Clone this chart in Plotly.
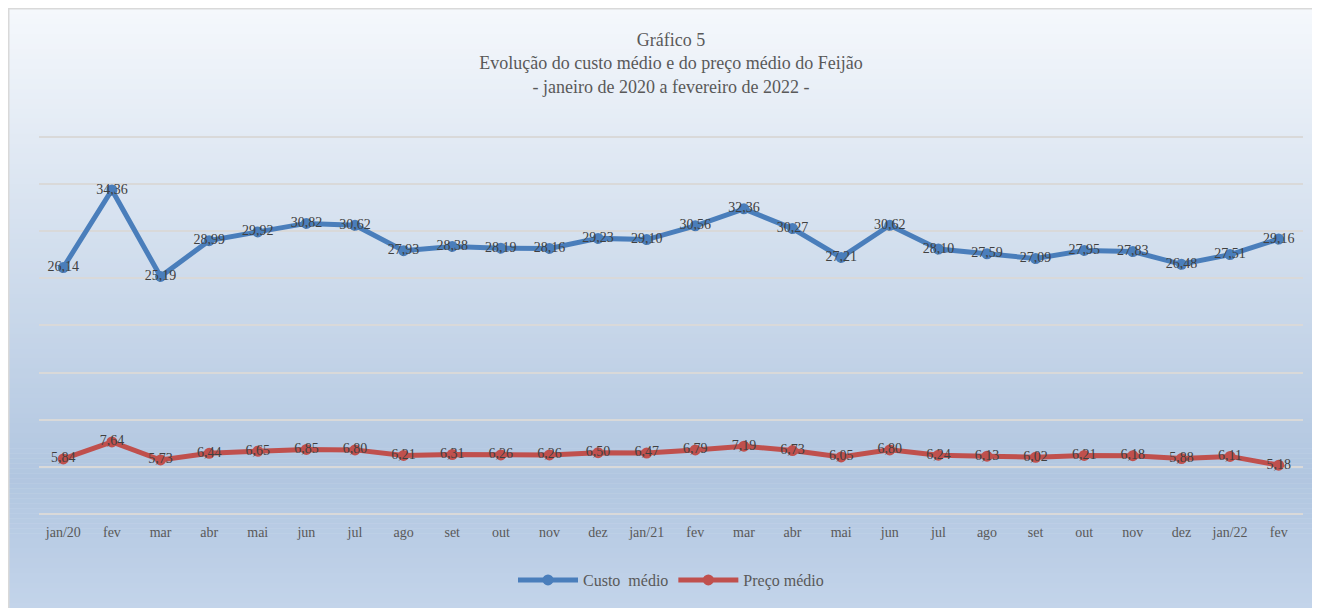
"""Gráfico 5 - custo médio e preço médio do Feijão."""

import plotly.graph_objects as go

# Data
months = [
    "jan/20", "fev", "mar", "abr", "mai", "jun", "jul", "ago", "set", "out",
    "nov", "dez", "jan/21", "fev", "mar", "abr", "mai", "jun", "jul", "ago",
    "set", "out", "nov", "dez", "jan/22", "fev",
]
custo_medio = [
    26.14, 34.36, 25.19, 28.99, 29.92, 30.82, 30.62, 27.93, 28.38, 28.19,
    28.16, 29.23, 29.10, 30.56, 32.36, 30.27, 27.21, 30.62, 28.10, 27.59,
    27.09, 27.95, 27.83, 26.48, 27.51, 29.16,
]
preco_medio = [
    5.84, 7.64, 5.73, 6.44, 6.65, 6.85, 6.80, 6.21, 6.31, 6.26,
    6.26, 6.50, 6.47, 6.79, 7.19, 6.73, 6.05, 6.80, 6.24, 6.13,
    6.02, 6.21, 6.18, 5.88, 6.11, 5.18,
]
x_pos = list(range(len(months)))

FONT = "Liberation Serif"
BLUE = "#4a7ebb"
RED = "#c0504d"

# figure geometry in pixels (the page adds an 8px body margin)
W, H = 1320, 608
M_L, M_R, M_T, M_B = 31, 25, 126, 102
PW, PH = W - M_L - M_R, H - M_T - M_B


def fx(px):
    """figure pixel x -> paper x"""
    return (px - M_L) / PW


def fy(py):
    """figure pixel y -> paper y"""
    return 1 - (py - M_T) / PH


def hex_to_rgb(h):
    h = h.lstrip("#")
    return tuple(int(h[i:i + 2], 16) for i in (0, 2, 4))


def grad_color(t, stops):
    for (t0, c0), (t1, c1) in zip(stops, stops[1:]):
        if t0 <= t <= t1:
            f = (t - t0) / (t1 - t0) if t1 > t0 else 0
            a, b = hex_to_rgb(c0), hex_to_rgb(c1)
            return "rgb(%d,%d,%d)" % tuple(round(a[i] + (b[i] - a[i]) * f) for i in range(3))
    return stops[-1][1]


def br_fmt(values):
    return [f"{v:.2f}".replace(".", ",") for v in values]


grad_stops = [(0.0, "#f5f8fc"), (0.78, "#b1c6e0"), (1.0, "#c3d4ea")]

fig = go.Figure()

# Custo médio
fig.add_trace(go.Scatter(
    x=x_pos,
    y=custo_medio,
    mode="lines+markers+text",
    name="Custo  médio",
    line=dict(color=BLUE, width=5),
    marker=dict(color=BLUE, size=11),
    text=br_fmt(custo_medio),
    textposition="middle center",
    textfont=dict(family=FONT, size=14, color="#404040"),
))

# Preço médio
fig.add_trace(go.Scatter(
    x=x_pos,
    y=preco_medio,
    mode="lines+markers+text",
    name="Preço médio",
    line=dict(color=RED, width=5),
    marker=dict(color=RED, size=11),
    text=br_fmt(preco_medio),
    textposition="middle center",
    textfont=dict(family=FONT, size=14, color="#404040"),
))

# gradient background as thin strips
top_px, bot_px, left_px, right_px = 1, 600, 0, W
n_strips = 120
step = (bot_px - top_px) / n_strips
shapes = []
for i in range(n_strips):
    y0 = top_px + i * step
    y1 = y0 + step + 0.6
    shapes.append(dict(
        type="rect", xref="paper", yref="paper", layer="below",
        x0=fx(left_px), x1=fx(right_px),
        y0=fy(y1), y1=fy(y0),
        fillcolor=grad_color((i + 0.5) / n_strips, grad_stops),
        line=dict(width=0),
    ))
# frame border
shapes.append(dict(
    type="rect", xref="paper", yref="paper", layer="below",
    x0=fx(0.5), x1=fx(W + 20),
    y0=fy(H + 20), y1=fy(0.5),
    line=dict(color="#d9d9d9", width=2),
))

fig.update_layout(
    width=W,
    height=H,
    margin=dict(l=M_L, r=M_R, t=M_T, b=M_B),
    paper_bgcolor="white",
    plot_bgcolor="rgba(0,0,0,0)",
    shapes=shapes,
    title=dict(
        text="Gráfico 5<br>Evolução do custo médio e do preço médio do Feijão"
             "<br>- janeiro de 2020 a fevereiro de 2022 -",
        x=0.5, xref="paper", xanchor="center",
        y=1 - 38 / H, yref="container", yanchor="top",
        font=dict(family=FONT, size=18, color="#595959"),
    ),
    xaxis=dict(
        tickvals=x_pos,
        ticktext=months,
        range=[-0.5, len(months) - 0.5],
        showgrid=False,
        zeroline=False,
        showline=False,
        ticks="",
        ticklabelstandoff=8,
        tickfont=dict(family=FONT, size=14, color="#595959"),
    ),
    yaxis=dict(
        range=[0, 40.3],
        tickvals=[0, 5, 10, 15, 20, 25, 30, 35, 40],
        showticklabels=False,
        showgrid=True,
        gridcolor="#d9d9d9",
        gridwidth=2,
        zeroline=True,
        zerolinecolor="#d9d9d9",
        zerolinewidth=2,
    ),
    showlegend=True,
    legend=dict(
        orientation="h",
        x=0.5, xanchor="center",
        y=fy(572), yanchor="middle",
        itemwidth=60,
        font=dict(family=FONT, size=16, color="#595959"),
        bgcolor="rgba(0,0,0,0)",
    ),
)

fig.write_html("out.html")
